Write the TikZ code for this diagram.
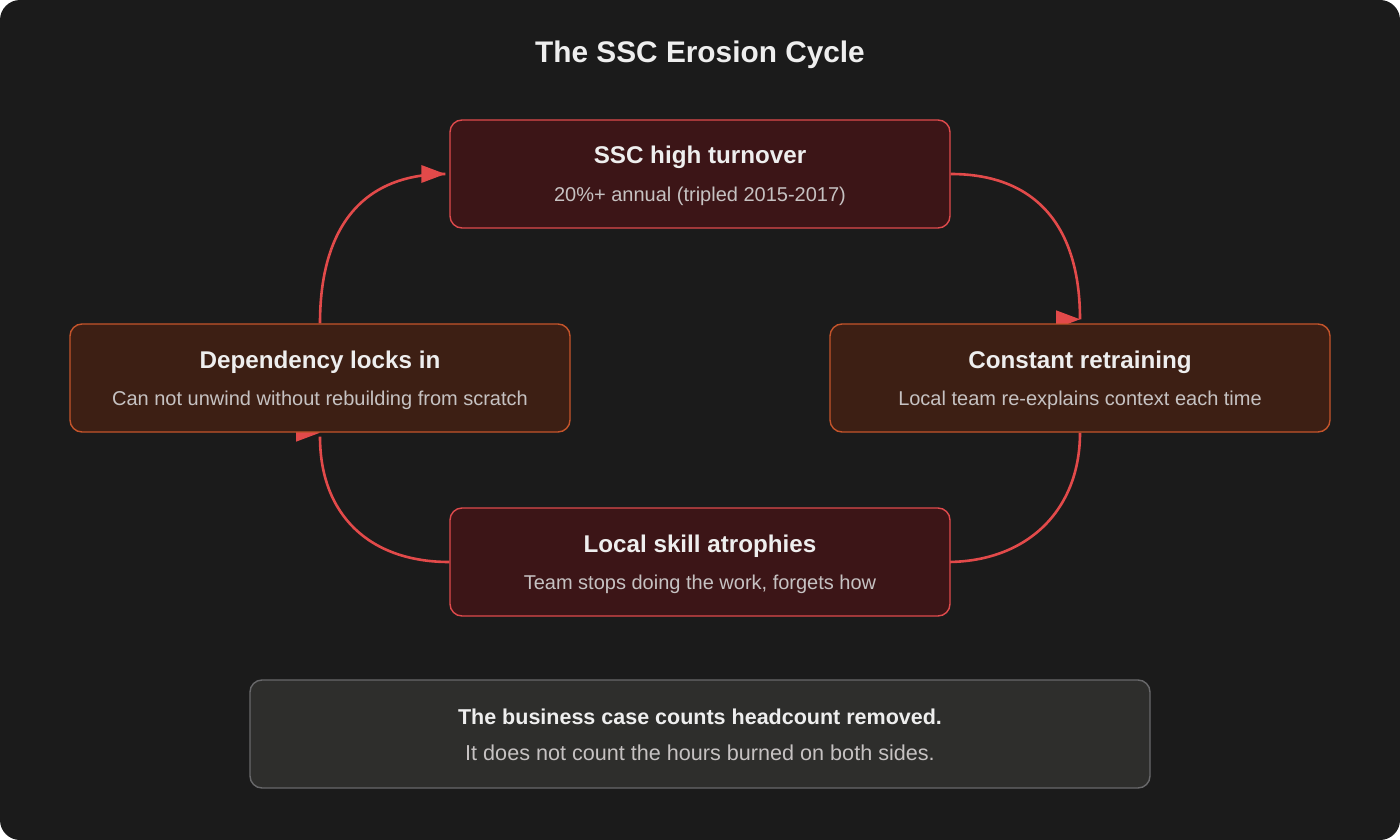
\documentclass[tikz,border=0pt]{standalone}
\usepackage{fontspec}
\setmainfont{Liberation Sans}
\usetikzlibrary{calc}
\definecolor{bgc}{HTML}{1B1B1B}
\definecolor{redfill}{HTML}{3C1517}
\definecolor{redline}{HTML}{DE4A4C}
\definecolor{conncol}{HTML}{E24A4A}
\definecolor{orfill}{HTML}{3D1F14}
\definecolor{orline}{HTML}{C4542B}
\definecolor{ftfill}{HTML}{2E2E2C}
\definecolor{ftline}{HTML}{68686A}
\definecolor{txtmain}{HTML}{EEEEEE}
\definecolor{txtsub}{HTML}{C6C2C2}
\pgfdeclarelayer{bglayer}
\pgfdeclarelayer{connlayer}
\pgfsetlayers{bglayer,connlayer,main}
\tikzset{
  box/.style={rectangle, rounded corners=12pt, line width=1.4pt, minimum width=500pt, minimum height=108pt, inner sep=0pt},
  redbox/.style={box, fill=redfill, draw=redline},
  orbox/.style={box, fill=orfill, draw=orline},
  ftbox/.style={box, fill=ftfill, draw=ftline, minimum width=900pt},
  ttl/.style={anchor=base, text=txtmain, font=\fontsize{24.2}{28}\selectfont\bfseries, inner sep=0pt},
  sub/.style={anchor=base, text=txtsub, font=\fontsize{20}{24}\selectfont, inner sep=0pt},
  ftb/.style={anchor=base, text=txtmain, font=\fontsize{21.5}{25}\selectfont\bfseries, inner sep=0pt},
  ftr/.style={anchor=base, text=txtsub, font=\fontsize{21.6}{25}\selectfont, inner sep=0pt},
  conn/.style={draw=conncol, line width=2.6pt},
  ahead/.pic={\fill[conncol] (0,0) -- (-24,-9) -- (-24,9) -- cycle;}
}
\begin{document}
\begin{tikzpicture}[x=1pt,y=-1pt]
\begin{pgfonlayer}{bglayer}
\fill[white] (0,0) rectangle (1400,840);
\fill[bgc, rounded corners=20pt] (0,0) rectangle (1400,840);
\end{pgfonlayer}
\useasboundingbox (0,0) rectangle (1400,840);

\node[anchor=base, text=txtmain, font=\fontsize{29.8}{34}\selectfont\bfseries, inner sep=0pt] (title) at (700,63) {The SSC Erosion Cycle};

\node[redbox] (top) at (700,174) {};
\node[orbox] (left) at (320,378) {};
\node[orbox] (right) at (1080,378) {};
\node[redbox] (bottom) at (700,562) {};
\node[ftbox] (foot) at (700,734) {};

\node[ttl] (topT) at (700,164) {SSC high turnover};
\node[sub] (topS) at (700,201) {20\%+ annual (tripled 2015-2017)};
\node[ttl] (leftT) at (320,368) {Dependency locks in};
\node[sub] (leftS) at (320,405) {Can not unwind without rebuilding from scratch};
\node[ttl] (rightT) at (1080,368) {Constant retraining};
\node[sub] (rightS) at (1080,405) {Local team re-explains context each time};
\node[ttl] (bottomT) at (700,552) {Local skill atrophies};
\node[sub] (bottomS) at (700,589) {Team stops doing the work, forgets how};
\node[ftb] (footB) at (700,724) {The business case counts headcount removed.};
\node[ftr] (footR) at (700,760) {It does not count the hours burned on both sides.};

\coordinate (e1) at ($(top.west)+(-4,0)$);
\coordinate (e2) at ($(right.north)+(0,-4)$);
\coordinate (e3) at ($(bottom.east)+(-4,0)$);
\coordinate (e4) at ($(left.south)+(0,4)$);

\begin{pgfonlayer}{connlayer}
\draw[conn] (left.north) .. controls +(0,-92) and +(-86,0) .. (e1);
\pic at (e1) {ahead};
\draw[conn] (top.east) .. controls +(86,0) and +(0,-92) .. (e2);
\pic at (e2) {ahead};
\draw[conn] (right.south) .. controls +(0,78) and +(80,0) .. (e3);
\pic at (e3) {ahead};
\draw[conn] (bottom.west) .. controls +(-80,0) and +(0,78) .. (e4);
\pic at ($(left.south)$) {ahead};
\end{pgfonlayer}
\end{tikzpicture}
\end{document}
